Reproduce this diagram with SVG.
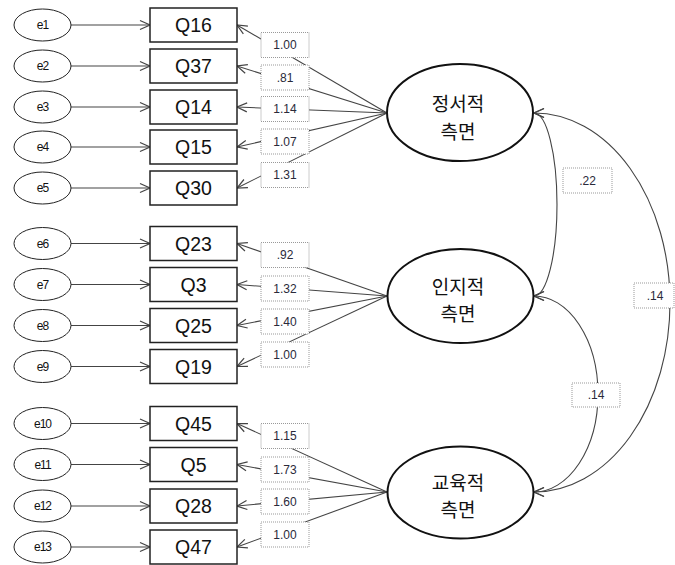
<svg xmlns="http://www.w3.org/2000/svg" width="675" height="565" viewBox="0 0 675 565">
<defs>
<marker id="arr" viewBox="-11 -6 12 12" refX="0" refY="0" markerWidth="12" markerHeight="12" markerUnits="userSpaceOnUse" orient="auto-start-reverse"><path d="M-10,-4.5 L0,0 L-10,4.5" fill="none" stroke="#444" stroke-width="1.2"/></marker>
</defs>
<style>
.err ellipse{fill:#fff;stroke:#222;stroke-width:1}
.err text{font-family:"Liberation Sans",Arial,sans-serif;font-size:12px;letter-spacing:-1px;fill:#111;text-anchor:middle}
.obs rect{fill:#fff;stroke:#222;stroke-width:1.5}
.obs text{font-family:"Liberation Sans",Arial,sans-serif;font-size:19.5px;fill:#111;text-anchor:middle}
.lat ellipse{fill:#fff;stroke:#111;stroke-width:2}
.lat text{font-family:"Noto Sans CJK KR","Noto Sans CJK SC",sans-serif;font-size:19px;fill:#111;text-anchor:middle}
.ln{fill:none;stroke:#444;stroke-width:1.1}
.ar{marker-end:url(#arr)}
.cv{fill:none;stroke:#444;stroke-width:1.1;marker-start:url(#arr);marker-end:url(#arr)}
.lbl rect{fill:#fff;stroke:#999;stroke-width:1;stroke-dasharray:1 1}
.lbl text{font-family:"Liberation Sans",Arial,sans-serif;font-size:12px;fill:#2a2a3a;text-anchor:middle}
</style>
<g id="connectors">
<line class="ln ar" x1="71" y1="25" x2="150" y2="25"/>
<line class="ln ar" x1="71" y1="66" x2="150" y2="66"/>
<line class="ln ar" x1="71" y1="107" x2="150" y2="107"/>
<line class="ln ar" x1="71" y1="147" x2="150" y2="147"/>
<line class="ln ar" x1="71" y1="188" x2="150" y2="188"/>
<line class="ln ar" x1="71" y1="243.5" x2="150" y2="243.5"/>
<line class="ln ar" x1="71" y1="284.5" x2="150" y2="284.5"/>
<line class="ln ar" x1="71" y1="325.5" x2="150" y2="325.5"/>
<line class="ln ar" x1="71" y1="366.5" x2="150" y2="366.5"/>
<line class="ln ar" x1="71" y1="423.5" x2="150" y2="423.5"/>
<line class="ln ar" x1="71" y1="464.5" x2="150" y2="464.5"/>
<line class="ln ar" x1="71" y1="506" x2="150" y2="506"/>
<line class="ln ar" x1="71" y1="547" x2="150" y2="547"/>
<line class="ln ar" x1="387" y1="113" x2="237" y2="25"/>
<line class="ln ar" x1="387" y1="113" x2="237" y2="66"/>
<line class="ln ar" x1="387" y1="113" x2="237" y2="107"/>
<line class="ln ar" x1="387" y1="113" x2="237" y2="147"/>
<line class="ln ar" x1="387" y1="113" x2="237" y2="188"/>
<line class="ln ar" x1="387" y1="296" x2="237" y2="243.5"/>
<line class="ln ar" x1="387" y1="296" x2="237" y2="284.5"/>
<line class="ln ar" x1="387" y1="296" x2="237" y2="325.5"/>
<line class="ln ar" x1="387" y1="296" x2="237" y2="366.5"/>
<line class="ln ar" x1="387" y1="492" x2="237" y2="423.5"/>
<line class="ln ar" x1="387" y1="492" x2="237" y2="464.5"/>
<line class="ln ar" x1="387" y1="492" x2="237" y2="506"/>
<line class="ln ar" x1="387" y1="492" x2="237" y2="547"/>
<path class="cv" d="M534,113 A23,91.5 0 0 1 534,296"/>
<path class="cv" d="M534,296 A64,98 0 0 1 534,492"/>
<path class="cv" d="M534,113 A136,189.5 0 0 1 534,492"/>
</g>
<g id="labels" class="lbl">
<rect x="261" y="32.5" width="48" height="25"/><text x="285" y="49">1.00</text>
<rect x="261" y="65" width="48" height="25"/><text x="285" y="81.5">.81</text>
<rect x="261" y="96.5" width="48" height="25"/><text x="285" y="113">1.14</text>
<rect x="261" y="129" width="48" height="25"/><text x="285" y="145.5">1.07</text>
<rect x="261" y="162.5" width="48" height="25"/><text x="285" y="179">1.31</text>
<rect x="261" y="242.5" width="48" height="25"/><text x="285" y="259">.92</text>
<rect x="261" y="276" width="48" height="25"/><text x="285" y="292.5">1.32</text>
<rect x="261" y="309" width="48" height="25"/><text x="285" y="325.5">1.40</text>
<rect x="261" y="342" width="48" height="25"/><text x="285" y="358.5">1.00</text>
<rect x="261" y="423.5" width="48" height="25"/><text x="285" y="440">1.15</text>
<rect x="261" y="457" width="48" height="25"/><text x="285" y="473.5">1.73</text>
<rect x="261" y="489" width="48" height="25"/><text x="285" y="505.5">1.60</text>
<rect x="261" y="522" width="48" height="25"/><text x="285" y="538.5">1.00</text>
<rect x="563" y="168" width="49" height="25"/><text x="587.5" y="184.5">.22</text>
<rect x="572" y="383" width="48" height="24"/><text x="596" y="399">.14</text>
<rect x="634" y="283" width="40" height="25"/><text x="655" y="299.5">.14</text>
</g>
<g id="e1" class="err"><ellipse cx="42.5" cy="25" rx="28.5" ry="16"/><text x="42.5" y="29">e1</text></g>
<g id="e2" class="err"><ellipse cx="42.5" cy="66" rx="28.5" ry="16"/><text x="42.5" y="70">e2</text></g>
<g id="e3" class="err"><ellipse cx="42.5" cy="107" rx="28.5" ry="16"/><text x="42.5" y="111">e3</text></g>
<g id="e4" class="err"><ellipse cx="42.5" cy="147" rx="28.5" ry="16"/><text x="42.5" y="151">e4</text></g>
<g id="e5" class="err"><ellipse cx="42.5" cy="188" rx="28.5" ry="16"/><text x="42.5" y="192">e5</text></g>
<g id="e6" class="err"><ellipse cx="42.5" cy="243.5" rx="28.5" ry="16"/><text x="42.5" y="247.5">e6</text></g>
<g id="e7" class="err"><ellipse cx="42.5" cy="284.5" rx="28.5" ry="16"/><text x="42.5" y="288.5">e7</text></g>
<g id="e8" class="err"><ellipse cx="42.5" cy="325.5" rx="28.5" ry="16"/><text x="42.5" y="329.5">e8</text></g>
<g id="e9" class="err"><ellipse cx="42.5" cy="366.5" rx="28.5" ry="16"/><text x="42.5" y="370.5">e9</text></g>
<g id="e10" class="err"><ellipse cx="42.5" cy="423.5" rx="28.5" ry="16"/><text x="42.5" y="427.5">e10</text></g>
<g id="e11" class="err"><ellipse cx="42.5" cy="464.5" rx="28.5" ry="16"/><text x="42.5" y="468.5">e11</text></g>
<g id="e12" class="err"><ellipse cx="42.5" cy="506" rx="28.5" ry="16"/><text x="42.5" y="510">e12</text></g>
<g id="e13" class="err"><ellipse cx="42.5" cy="547" rx="28.5" ry="16"/><text x="42.5" y="551">e13</text></g>
<g id="Q16" class="obs"><rect x="150" y="8" width="87" height="34"/><text x="193.5" y="32">Q16</text></g>
<g id="Q37" class="obs"><rect x="150" y="49" width="87" height="34"/><text x="193.5" y="73">Q37</text></g>
<g id="Q14" class="obs"><rect x="150" y="90" width="87" height="34"/><text x="193.5" y="114">Q14</text></g>
<g id="Q15" class="obs"><rect x="150" y="130" width="87" height="34"/><text x="193.5" y="154">Q15</text></g>
<g id="Q30" class="obs"><rect x="150" y="171" width="87" height="34"/><text x="193.5" y="195">Q30</text></g>
<g id="Q23" class="obs"><rect x="150" y="226.5" width="87" height="34"/><text x="193.5" y="250.5">Q23</text></g>
<g id="Q3" class="obs"><rect x="150" y="267.5" width="87" height="34"/><text x="193.5" y="291.5">Q3</text></g>
<g id="Q25" class="obs"><rect x="150" y="308.5" width="87" height="34"/><text x="193.5" y="332.5">Q25</text></g>
<g id="Q19" class="obs"><rect x="150" y="349.5" width="87" height="34"/><text x="193.5" y="373.5">Q19</text></g>
<g id="Q45" class="obs"><rect x="150" y="406.5" width="87" height="34"/><text x="193.5" y="430.5">Q45</text></g>
<g id="Q5" class="obs"><rect x="150" y="447.5" width="87" height="34"/><text x="193.5" y="471.5">Q5</text></g>
<g id="Q28" class="obs"><rect x="150" y="489" width="87" height="34"/><text x="193.5" y="513">Q28</text></g>
<g id="Q47" class="obs"><rect x="150" y="530" width="87" height="34"/><text x="193.5" y="554">Q47</text></g>
<g id="f1" class="lat"><ellipse cx="460" cy="112.5" rx="73" ry="48.5"/><text x="458" y="111">정서적</text><text x="458" y="139">측면</text></g>
<g id="f2" class="lat"><ellipse cx="460.5" cy="296" rx="73" ry="47"/><text x="458" y="294">인지적</text><text x="458" y="321">측면</text></g>
<g id="f3" class="lat"><ellipse cx="460.5" cy="492.5" rx="73" ry="46"/><text x="458" y="490">교육적</text><text x="458" y="517">측면</text></g>
</svg>
